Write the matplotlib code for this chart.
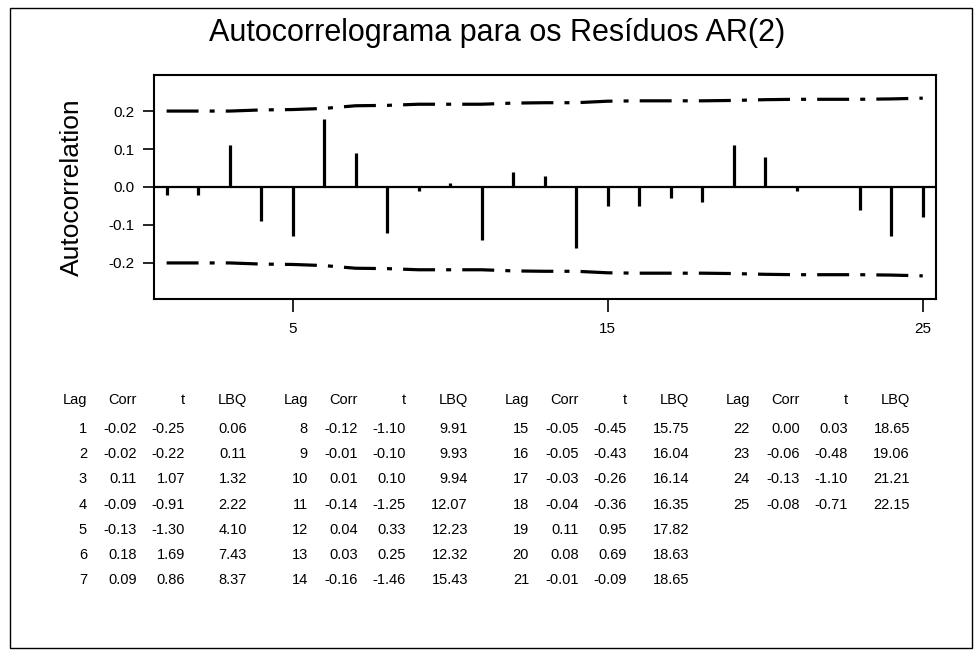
import matplotlib
matplotlib.use('Agg')
import matplotlib.pyplot as plt
from matplotlib.patches import Rectangle

plt.rcParams['font.family'] = ['Liberation Sans', 'DejaVu Sans']
plt.rcParams['axes.unicode_minus'] = False
plt.rcParams['lines.scale_dashes'] = False

# dados
lags = list(range(1, 26))
corr = [-0.02, -0.02, 0.11, -0.09, -0.13, 0.18, 0.09, -0.12, -0.01, 0.01,
        -0.14, 0.04, 0.03, -0.16, -0.05, -0.05, -0.03, -0.04, 0.11, 0.08,
        -0.01, 0.00, -0.06, -0.13, -0.08]
tval = [-0.25, -0.22, 1.07, -0.91, -1.30, 1.69, 0.86, -1.10, -0.10, 0.10,
        -1.25, 0.33, 0.25, -1.46, -0.45, -0.43, -0.26, -0.36, 0.95, 0.69,
        -0.09, 0.03, -0.48, -1.10, -0.71]
lbq = [0.06, 0.11, 1.32, 2.22, 4.10, 7.43, 8.37, 9.91, 9.93, 9.94,
       12.07, 12.23, 12.32, 15.43, 15.75, 16.04, 16.14, 16.35, 17.82, 18.63,
       18.65, 18.65, 19.06, 21.21, 22.15]
# limites de confianca (linha traco-ponto)
limite = [0.200, 0.200, 0.200, 0.203, 0.204, 0.207, 0.214, 0.215, 0.218, 0.218,
          0.218, 0.221, 0.222, 0.222, 0.226, 0.227, 0.227, 0.227, 0.228, 0.230,
          0.231, 0.231, 0.231, 0.232, 0.234]
blocos = [(1, 7), (8, 14), (15, 21), (22, 25)]

W, H = 976, 650


def fx(px):
    return px / W


def fy(py):
    return 1 - py / H


fig = plt.figure(figsize=(W / 100, H / 100), dpi=100)
fig.patches.append(Rectangle((fx(10), fy(648)), fx(962), 640 / H,
                             transform=fig.transFigure, fill=False,
                             edgecolor='black', linewidth=1))

ax = fig.add_axes([fx(154), fy(299), fx(936 - 154), (299 - 75) / H])
ax.vlines(lags, 0, corr, color='black', linewidth=2.3)
ax.axhline(0, color='black', linewidth=1.6)
ax.plot(lags, limite, color='black', linewidth=2.3, dashes=(23, 8, 3.6, 8))
ax.plot(lags, [-v for v in limite], color='black', linewidth=2.3,
        dashes=(23, 8, 3.6, 8))

ax.set_xlim(0.6, 25.42)
ax.set_ylim(-0.295, 0.295)
ax.set_xticks([5, 15, 25])
ax.set_yticks([-0.2, -0.1, 0.0, 0.1, 0.2])
ax.set_yticklabels(['%.1f' % v for v in [-0.2, -0.1, 0.0, 0.1, 0.2]])
ax.tick_params(axis='y', direction='out', length=8, width=1.2, pad=6,
               labelsize=11)
ax.tick_params(axis='x', direction='out', length=9.5, width=1.2, pad=7,
               labelsize=11)
for s in ax.spines.values():
    s.set_linewidth(1.5)

fig.text(fx(497), fy(41), 'Autocorrelograma para os Resíduos AR(2)',
         ha='center', va='baseline', fontsize=22)
fig.text(fx(72), fy(187), 'Autocorrelation', rotation=90,
         ha='center', va='center', fontsize=19)

# tabela
colunas = [87, 137, 185, 247]
cabec = ['Lag', 'Corr', 't', 'LBQ']
for b, (ini, fim) in enumerate(blocos):
    dx = 221 * b
    for c, txt in enumerate(cabec):
        fig.text(fx(colunas[c] + dx), fy(400), txt, ha='right', va='center',
                 fontsize=10.5)
    for r, lag in enumerate(range(ini, fim + 1)):
        i = lag - 1
        y = 429 + 25.2 * r
        vals = ['%d' % lag, '%.2f' % corr[i], '%.2f' % tval[i], '%.2f' % lbq[i]]
        for c, txt in enumerate(vals):
            fig.text(fx(colunas[c] + dx), fy(y), txt, ha='right', va='center',
                     fontsize=10.5)

fig.savefig('out.png', dpi=100)
